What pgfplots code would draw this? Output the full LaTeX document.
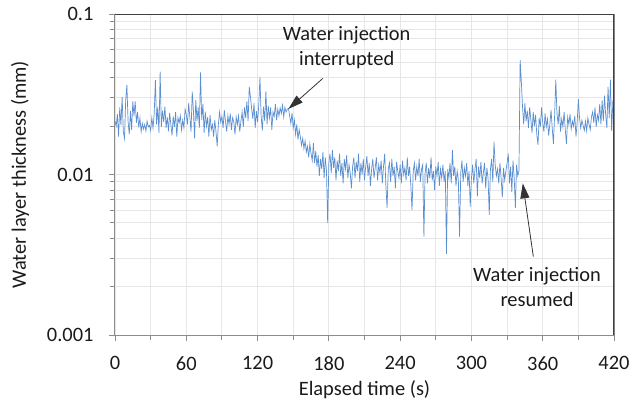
\documentclass[border=0pt]{standalone}
\usepackage{fontspec}
\setmainfont{Carlito}
\usepackage{pgfplots}
\pgfplotsset{compat=1.18}
\usetikzlibrary{arrows.meta}
\definecolor{lineblue}{HTML}{5B8FCF}
\definecolor{gridgray}{HTML}{E6E6E6}
\definecolor{axgray}{HTML}{8C8C8C}
\definecolor{axdark}{HTML}{404040}
\definecolor{txt}{HTML}{1A1A1A}
\begin{document}
\begin{tikzpicture}[font=\fontsize{20.5}{25}\selectfont]
\begin{axis}[
 at={(0,0)}, anchor=south west,
 scale only axis, width=499bp, height=321bp,
 ymode=log, xmin=0, xmax=420, ymin=0.001, ymax=0.1,
 xtick={0,60,...,420}, minor xtick={30,90,...,390},
 ytick={0.001,0.01,0.1}, yticklabels={0.001,0.01,0.1},
 minor ytick={0.002,0.003,0.004,0.005,0.006,0.007,0.008,0.009,0.02,0.03,0.04,0.05,0.06,0.07,0.08,0.09},
 grid=both,
 major grid style={gridgray, line width=0.9bp},
 minor grid style={gridgray, line width=0.9bp},
 tick align=outside, major tick length=6bp, minor tick length=5bp,
 tick style={axgray, line width=0.9bp},
 tick pos=left,
 axis line style={axgray, line width=1bp},
 /pgf/number format/assume math mode=true,
 ticklabel style={text=txt},
 label style={text=txt},
 xticklabel shift=12bp, yticklabel shift=12bp,
 xlabel shift=3bp, ylabel shift=11bp,
 xlabel={Elapsed time (s)},
 ylabel={Water layer thickness (mm)},
]
\addplot[lineblue, line width=0.7bp, mark=none] coordinates {
(0,0.0215)(1,0.0200)(2,0.0238)(3,0.0172)(4,0.0262)(5,0.0203)(6,0.0305)(7,0.0185)(8,0.0168)(9,0.0290)
(10,0.0362)(11,0.0215)(12,0.0178)(13,0.0248)(14,0.0190)(15,0.0285)(16,0.0232)(17,0.0285)(18,0.0210)(19,0.0245)
(20,0.0196)(21,0.0225)(22,0.0185)(23,0.0208)(24,0.0192)(25,0.0205)(26,0.0187)(27,0.0215)(28,0.0198)(29,0.0202)
(30,0.0188)(31,0.0225)(32,0.0195)(33,0.0240)(34,0.0388)(35,0.0205)(36,0.0265)(37,0.0182)(38,0.0437)(39,0.0198)
(40,0.0250)(41,0.0212)(42,0.0265)(43,0.0195)(44,0.0228)(45,0.0186)(46,0.0242)(47,0.0205)(48,0.0175)(49,0.0230)
(50,0.0198)(51,0.0245)(52,0.0172)(53,0.0226)(54,0.0210)(55,0.0232)(56,0.0190)(57,0.0218)(58,0.0195)(59,0.0255)
(60,0.0235)(61,0.0205)(62,0.0278)(63,0.0228)(64,0.0185)(65,0.0328)(66,0.0250)(67,0.0168)(68,0.0292)(69,0.0215)
(70,0.0262)(71,0.0195)(72,0.0433)(73,0.0218)(74,0.0275)(75,0.0182)(76,0.0246)(77,0.0200)(78,0.0228)(79,0.0172)
(80,0.0235)(81,0.0190)(82,0.0205)(83,0.0172)(84,0.0218)(85,0.0185)(86,0.0150)(87,0.0205)(88,0.0245)(89,0.0212)
(90,0.0230)(91,0.0195)(92,0.0252)(93,0.0215)(94,0.0185)(95,0.0232)(96,0.0205)(97,0.0240)(98,0.0190)(99,0.0226)
(100,0.0212)(101,0.0178)(102,0.0228)(103,0.0205)(104,0.0232)(105,0.0185)(106,0.0215)(107,0.0245)(108,0.0198)(109,0.0262)
(110,0.0225)(111,0.0285)(112,0.0215)(113,0.0352)(114,0.0305)(115,0.0258)(116,0.0222)(117,0.0278)(118,0.0195)(119,0.0248)
(120,0.0212)(121,0.0270)(122,0.0403)(123,0.0232)(124,0.0188)(125,0.0265)(126,0.0215)(127,0.0330)(128,0.0205)(129,0.0268)
(130,0.0225)(131,0.0262)(132,0.0190)(133,0.0245)(134,0.0230)(135,0.0275)(136,0.0218)(137,0.0255)(138,0.0232)(139,0.0260)
(140,0.0240)(141,0.0270)(142,0.0228)(143,0.0262)(144,0.0245)(145,0.0255)(146,0.0258)(147,0.0232)(148,0.0208)(149,0.0242)
(150,0.0195)(151,0.0218)(152,0.0178)(153,0.0205)(154,0.0165)(155,0.0190)(156,0.0172)(157,0.0152)(158,0.0168)(159,0.0145)
(160,0.0162)(161,0.0138)(162,0.0150)(163,0.0128)(164,0.0155)(165,0.0135)(166,0.0122)(167,0.0157)(168,0.0118)(169,0.0140)
(170,0.0112)(171,0.0132)(172,0.0098)(173,0.0125)(174,0.0108)(175,0.0138)(176,0.0095)(177,0.0128)(178,0.0105)(179,0.0050)
(180,0.0118)(181,0.0135)(182,0.0102)(183,0.0142)(184,0.0110)(185,0.0128)(186,0.0092)(187,0.0122)(188,0.0105)(189,0.0135)
(190,0.0098)(191,0.0118)(192,0.0088)(193,0.0125)(194,0.0108)(195,0.0132)(196,0.0095)(197,0.0115)(198,0.0102)(199,0.0082)
(200,0.0112)(201,0.0128)(202,0.0095)(203,0.0120)(204,0.0105)(205,0.0135)(206,0.0090)(207,0.0118)(208,0.0100)(209,0.0125)
(210,0.0092)(211,0.0112)(212,0.0130)(213,0.0098)(214,0.0118)(215,0.0085)(216,0.0108)(217,0.0125)(218,0.0095)(219,0.0110)
(220,0.0128)(221,0.0092)(222,0.0115)(223,0.0102)(224,0.0122)(225,0.0088)(226,0.0112)(227,0.0135)(228,0.0085)(229,0.0062)
(230,0.0108)(231,0.0118)(232,0.0090)(233,0.0125)(234,0.0098)(235,0.0112)(236,0.0082)(237,0.0120)(238,0.0105)(239,0.0095)
(240,0.0115)(241,0.0088)(242,0.0122)(243,0.0100)(244,0.0110)(245,0.0092)(246,0.0128)(247,0.0098)(248,0.0112)(249,0.0085)
(250,0.0060)(251,0.0105)(252,0.0118)(253,0.0092)(254,0.0112)(255,0.0098)(256,0.0125)(257,0.0090)(258,0.0108)(259,0.0115)
(260,0.0041)(261,0.0102)(262,0.0118)(263,0.0088)(264,0.0110)(265,0.0095)(266,0.0128)(267,0.0092)(268,0.0105)(269,0.0080)
(270,0.0112)(271,0.0098)(272,0.0120)(273,0.0085)(274,0.0108)(275,0.0095)(276,0.0115)(277,0.0090)(278,0.0105)(279,0.0032)
(280,0.0108)(281,0.0095)(282,0.0118)(283,0.0088)(284,0.0142)(285,0.0098)(286,0.0112)(287,0.0085)(288,0.0105)(289,0.0092)
(290,0.0041)(291,0.0102)(292,0.0122)(293,0.0090)(294,0.0110)(295,0.0098)(296,0.0118)(297,0.0085)(298,0.0105)(299,0.0063)
(300,0.0095)(301,0.0115)(302,0.0088)(303,0.0108)(304,0.0125)(305,0.0073)(306,0.0112)(307,0.0095)(308,0.0120)(309,0.0088)
(310,0.0102)(311,0.0118)(312,0.0082)(313,0.0110)(314,0.0095)(315,0.0056)(316,0.0108)(317,0.0125)(318,0.0090)(319,0.0160)
(320,0.0115)(321,0.0098)(322,0.0108)(323,0.0088)(324,0.0118)(325,0.0095)(326,0.0072)(327,0.0110)(328,0.0092)(329,0.0105)
(330,0.0118)(331,0.0135)(332,0.0088)(333,0.0112)(334,0.0078)(335,0.0122)(336,0.0095)(337,0.0062)(338,0.0115)(339,0.0098)
(340,0.0105)(341,0.0517)(342,0.0380)(343,0.0265)(344,0.0205)(345,0.0278)(346,0.0215)(347,0.0250)(348,0.0195)(349,0.0262)
(350,0.0220)(351,0.0182)(352,0.0245)(353,0.0200)(354,0.0235)(355,0.0178)(356,0.0153)(357,0.0225)(358,0.0198)(359,0.0262)
(360,0.0210)(361,0.0185)(362,0.0240)(363,0.0198)(364,0.0222)(365,0.0175)(366,0.0205)(367,0.0252)(368,0.0195)(369,0.0155)
(370,0.0232)(371,0.0390)(372,0.0240)(373,0.0205)(374,0.0268)(375,0.0185)(376,0.0222)(377,0.0198)(378,0.0245)(379,0.0190)
(380,0.0155)(381,0.0228)(382,0.0205)(383,0.0238)(384,0.0192)(385,0.0215)(386,0.0200)(387,0.0232)(388,0.0172)(389,0.0212)
(390,0.0295)(391,0.0225)(392,0.0195)(393,0.0218)(394,0.0202)(395,0.0188)(396,0.0215)(397,0.0187)(398,0.0225)(399,0.0205)
(400,0.0190)(401,0.0228)(402,0.0245)(403,0.0210)(404,0.0262)(405,0.0198)(406,0.0235)(407,0.0218)(408,0.0275)(409,0.0205)
(410,0.0290)(411,0.0215)(412,0.0310)(413,0.0235)(414,0.0195)(415,0.0352)(416,0.0225)(417,0.0390)(418,0.0187)(419,0.0280)
(420,0.0253)
};
\draw[axdark, line width=1.2bp] (rel axis cs:0,1) -- (rel axis cs:1,1) -- (rel axis cs:1,0);
\draw[black!80, line width=0.8bp, -{Triangle[length=15bp, width=9bp]}] (axis cs:174.9,0.0397) -- (axis cs:145.9,0.0256);
\draw[black!80, line width=0.8bp, -{Triangle[length=15bp, width=9bp]}] (axis cs:352.1,0.00308) -- (axis cs:343.2,0.00881);
\node[align=center, text=txt, inner sep=0pt] at (axis cs:195,0.0618) {Water injection\\interrupted};
\node[align=center, text=txt, inner sep=0pt] at (axis cs:355.2,0.00198) {Water injection\\resumed};
\end{axis}
\pgfresetboundingbox
\useasboundingbox (-115bp,-74bp) rectangle (517bp,335bp);
\end{tikzpicture}
\end{document}
